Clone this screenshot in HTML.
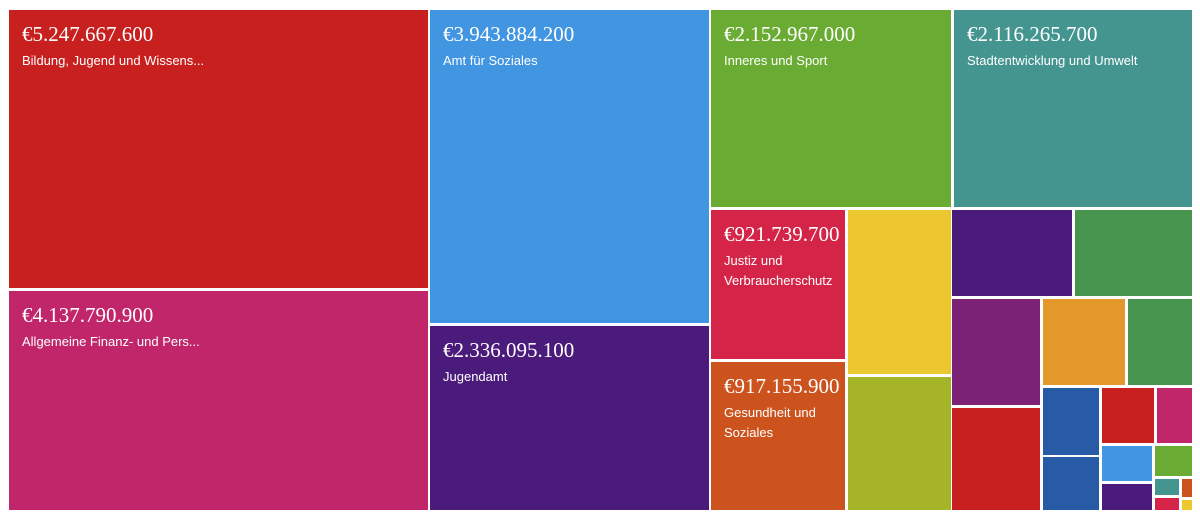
<!DOCTYPE html>
<html><head><meta charset="utf-8"><style>
body{margin:0;width:1200px;height:520px;background:#fff;position:relative;overflow:hidden}
.c{position:absolute;box-sizing:border-box;color:#fff;overflow:hidden}
.v{position:absolute;left:13px;top:12px;font-family:"Liberation Serif",serif;font-size:21px;line-height:24px;white-space:nowrap}
.l{position:absolute;left:13px;top:41px;font-family:"Liberation Sans",sans-serif;font-size:13px;line-height:20px;width:125px}
.w{width:400px}
</style></head><body>
<div class="c" style="left:9px;top:10px;width:419px;height:278px;background:#c8201f"><div class="v">€5.247.667.600</div><div class="l w">Bildung, Jugend und Wissens...</div></div>
<div class="c" style="left:9px;top:291px;width:419px;height:219px;background:#c2266a"><div class="v">€4.137.790.900</div><div class="l w">Allgemeine Finanz- und Pers...</div></div>
<div class="c" style="left:430px;top:10px;width:279px;height:313px;background:#4195e1"><div class="v">€3.943.884.200</div><div class="l w">Amt für Soziales</div></div>
<div class="c" style="left:430px;top:326px;width:279px;height:184px;background:#4a1b7a"><div class="v">€2.336.095.100</div><div class="l w">Jugendamt</div></div>
<div class="c" style="left:711px;top:10px;width:240px;height:197px;background:#6aac33"><div class="v">€2.152.967.000</div><div class="l w">Inneres und Sport</div></div>
<div class="c" style="left:954px;top:10px;width:238px;height:197px;background:#449590"><div class="v">€2.116.265.700</div><div class="l w">Stadtentwicklung und Umwelt</div></div>
<div class="c" style="left:711px;top:210px;width:134px;height:149px;background:#d42548"><div class="v">€921.739.700</div><div class="l">Justiz und Verbraucherschutz</div></div>
<div class="c" style="left:711px;top:362px;width:134px;height:148px;background:#cd531e"><div class="v">€917.155.900</div><div class="l">Gesundheit und Soziales</div></div>
<div class="c" style="left:848px;top:210px;width:103px;height:164px;background:#ecc72d"></div>
<div class="c" style="left:848px;top:377px;width:103px;height:133px;background:#a6b427"></div>
<div class="c" style="left:952px;top:210px;width:120px;height:86px;background:#4a1b7a"></div>
<div class="c" style="left:1075px;top:210px;width:117px;height:86px;background:#46944e"></div>
<div class="c" style="left:952px;top:299px;width:88px;height:106px;background:#7b2176"></div>
<div class="c" style="left:1043px;top:299px;width:82px;height:86px;background:#e2992a"></div>
<div class="c" style="left:1128px;top:299px;width:64px;height:86px;background:#46944e"></div>
<div class="c" style="left:952px;top:408px;width:88px;height:102px;background:#c8201f"></div>
<div class="c" style="left:1043px;top:388px;width:56px;height:67px;background:#285ba5"></div>
<div class="c" style="left:1043px;top:457px;width:56px;height:53px;background:#285ba5"></div>
<div class="c" style="left:1102px;top:388px;width:52px;height:55px;background:#c8201f"></div>
<div class="c" style="left:1157px;top:388px;width:35px;height:55px;background:#c2266a"></div>
<div class="c" style="left:1102px;top:446px;width:50px;height:35px;background:#4195e1"></div>
<div class="c" style="left:1102px;top:484px;width:50px;height:26px;background:#4a1b7a"></div>
<div class="c" style="left:1155px;top:446px;width:37px;height:30px;background:#6aac33"></div>
<div class="c" style="left:1155px;top:479px;width:24px;height:16px;background:#449590"></div>
<div class="c" style="left:1182px;top:479px;width:10px;height:18px;background:#cd531e"></div>
<div class="c" style="left:1155px;top:498px;width:24px;height:12px;background:#d42548"></div>
<div class="c" style="left:1182px;top:500px;width:10px;height:10px;background:#ecc72d"></div>
</body></html>
